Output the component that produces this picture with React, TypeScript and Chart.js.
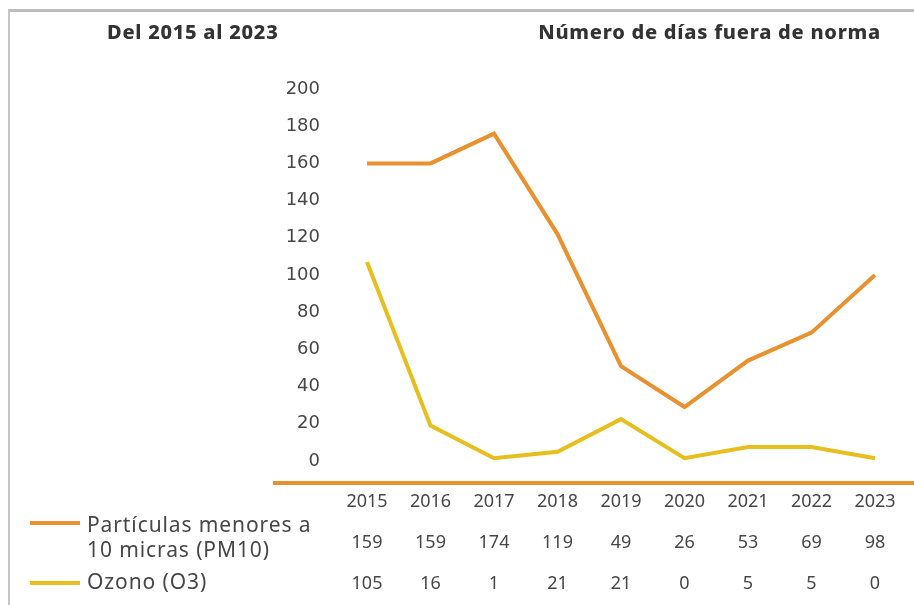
import React, { useEffect, useRef } from "react";
import { Chart, registerables } from "chart.js";

Chart.register(...registerables);

// ---- Data ----
const years = ["2015", "2016", "2017", "2018", "2019", "2020", "2021", "2022", "2023"];
// values as drawn by the lines in the picture
const pm10Plot = [160, 160, 176, 122, 51, 29, 54, 69, 100];
const o3Plot = [107, 19, 1.5, 5, 22.5, 1.5, 7.5, 7.5, 1.5];
// values printed in the table under the chart
const pm10Table = [159, 159, 174, 119, 49, 26, 53, 69, 98];
const o3Table = [105, 16, 1, 21, 21, 0, 5, 5, 0];
const yTicks = [0, 20, 40, 60, 80, 100, 120, 140, 160, 180, 200];

const pm10Name = ["Partículas menores a", "10 micras (PM10)"];
const o3Name = "Ozono (O3)";
const leftTitle = "Del 2015 al 2023";
const rightTitle = "Número de días fuera de norma";

const ORANGE = "#E8912E";
const YELLOW = "#E6BF1F";
const TEXT = "#474747";
const FONT = "'Noto Sans', sans-serif";
const TICK_FONT = "'DejaVu Sans', sans-serif";

export default function App() {
  const ref = useRef<HTMLCanvasElement>(null);

  useEffect(() => {
    document.body.style.margin = "0";
    const axisLine = {
      id: "axisLine",
      beforeDatasetsDraw(chart: any) {
        const { ctx, chartArea } = chart;
        ctx.save();
        ctx.strokeStyle = ORANGE;
        ctx.lineWidth = 4;
        ctx.beginPath();
        ctx.moveTo(273, chartArea.bottom + 1);
        ctx.lineTo(chart.width, chartArea.bottom + 1);
        ctx.stroke();
        ctx.restore();
      },
    };
    const labels = years.map((y, i) => [y, String(pm10Table[i]), String(o3Table[i])]);
    const chart = new Chart(ref.current as HTMLCanvasElement, {
      type: "line",
      data: {
        labels,
        datasets: [
          {
            label: pm10Name.join(" "),
            data: pm10Plot,
            borderColor: ORANGE,
            backgroundColor: ORANGE,
            borderWidth: 4,
            pointRadius: 0,
            tension: 0,
          },
          {
            label: o3Name,
            data: o3Plot,
            borderColor: YELLOW,
            backgroundColor: YELLOW,
            borderWidth: 4,
            pointRadius: 0,
            tension: 0,
          },
        ],
      },
      options: {
        responsive: false,
        animation: false,
        devicePixelRatio: 1,
        layout: { padding: { top: 89, right: 39, bottom: 0, left: 0 } },
        plugins: { legend: { display: false }, tooltip: { enabled: false } },
        scales: {
          x: {
            type: "category",
            offset: false,
            grid: { display: false, drawTicks: false },
            border: { display: false },
            ticks: {
              autoSkip: false,
              maxRotation: 0,
              minRotation: 0,
              padding: -1,
              color: TEXT,
              font: { family: FONT, size: 18, lineHeight: 41 / 18 },
            },
            afterFit: (s: any) => {
              s.height = 123;
            },
          },
          y: {
            min: -11.3,
            max: 200,
            grid: { display: false, drawTicks: false },
            border: { display: false },
            ticks: {
              stepSize: 20,
              padding: 47,
              color: TEXT,
              font: { family: TICK_FONT, size: 18 },
            },
            afterBuildTicks: (s: any) => {
              s.ticks = yTicks.map((v) => ({ value: v }));
            },
            afterFit: (s: any) => {
              s.width = 367;
            },
          },
        },
      },
      plugins: [axisLine],
    });
    return () => chart.destroy();
  }, []);

  const titleStyle: React.CSSProperties = {
    position: "absolute",
    top: 19,
    fontSize: 20,
    fontWeight: 800,
    letterSpacing: "0.75px",
    color: "#333",
    lineHeight: "26px",
    whiteSpace: "nowrap",
  };
  const legendText: React.CSSProperties = {
    position: "absolute",
    left: 87,
    fontSize: 21,
    letterSpacing: "0.9px",
    lineHeight: "25px",
    whiteSpace: "nowrap",
  };

  return (
    <div
      style={{
        position: "relative",
        width: 914,
        height: 605,
        overflow: "hidden",
        background: "#fff",
        fontFamily: FONT,
        color: TEXT,
      }}
    >
      <div style={{ position: "absolute", left: 9, top: 9, width: 905, height: 3, background: "#bdbdbd" }} />
      <div style={{ position: "absolute", left: 8, top: 9, width: 2, height: 596, background: "#c4c4c4" }} />
      <canvas
        ref={ref}
        width={914}
        height={605}
        style={{ position: "absolute", left: 0, top: 0, width: 914, height: 605 }}
      />
      <div style={{ ...titleStyle, left: 107 }}>{leftTitle}</div>
      <div style={{ ...titleStyle, right: 33 }}>{rightTitle}</div>
      <div style={{ position: "absolute", left: 30, top: 521, width: 50, height: 4, background: ORANGE }} />
      <div style={{ ...legendText, top: 512 }}>
        {pm10Name[0]}
        <br />
        {pm10Name[1]}
      </div>
      <div style={{ position: "absolute", left: 30, top: 581, width: 50, height: 4, background: YELLOW }} />
      <div style={{ ...legendText, top: 569 }}>{o3Name}</div>
    </div>
  );
}
